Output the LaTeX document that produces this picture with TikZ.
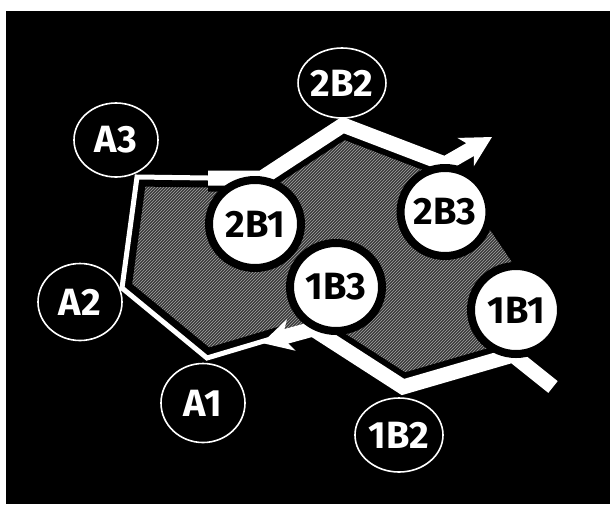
\documentclass[tikz,border=0pt]{standalone}
\usepackage{fontspec}
\setmainfont{Fira Sans}
\usetikzlibrary{arrows.meta,patterns,shapes.geometric,calc}
\definecolor{hatchbg}{RGB}{58,58,58}
\definecolor{hatchln}{RGB}{165,165,165}
\tikzset{
  lbl/.style={ellipse,inner sep=0pt,font=\fontsize{38}{38}\selectfont\bfseries},
  openc/.style={lbl,draw=white,line width=1.6pt,fill=black,text=white,
                minimum width=84pt,minimum height=74pt},
  fullc/.style={lbl,draw=black,line width=8pt,fill=white,text=black,
                minimum width=92pt,minimum height=88pt},
  halothin/.style={draw=black,line width=19pt,line join=miter},
  halothick/.style={draw=black,line width=27pt,line join=miter},
  thinline/.style={draw=white,line width=5pt,line join=miter},
  thickline/.style={draw=white,line width=15pt,line join=miter,miter limit=4},
  bigtip/.style={-{Stealth[length=30pt,width=32pt,inset=9pt]}},
}
\begin{document}
\begin{tikzpicture}[x=1pt,y=-1pt]
  % canvas
  \fill[white] (0,0) rectangle (610,504);
  \fill[black] (6,11) rectangle (610,504);
  \useasboundingbox (0,0) rectangle (610,504);

  % corner points of the two chains
  \coordinate (va3) at (137,177);
  \coordinate (va2) at (122,288);
  \coordinate (va1) at (207,358);
  \coordinate (aend) at (284,335);
  \coordinate (s2) at (208,178);
  \coordinate (v21) at (262,178);
  \coordinate (v22) at (343,125);
  \coordinate (v23) at (445,164);
  \coordinate (t2) at (492,137);
  \coordinate (s1) at (553,387);
  \coordinate (v11) at (513,355);
  \coordinate (v12) at (403,387);
  \coordinate (v13) at (313,329);
  \coordinate (t1) at (262,343);
  \coordinate (rc) at (524,280);

  % hatched area enclosed by the chains
  \fill[hatchbg] (va3) -- (v21) -- (v22) -- (v23) -- (rc) -- (v11) -- (v12)
     -- (v13) -- (aend) -- (va1) -- (va2) -- cycle;
  \fill[pattern=north east lines,pattern color=hatchln] (va3) -- (v21) -- (v22)
     -- (v23) -- (rc) -- (v11) -- (v12) -- (v13) -- (aend) -- (va1) -- (va2) -- cycle;

  % black margins around the lines
  \path[halothin] (s2) -- (va3) -- (va2) -- (va1) -- (aend);
  \path[halothick] (s2) -- (v21) -- (v22) -- (v23) -- ($(v23)!0.35!(t2)$);
  \path[halothick] (s1) -- (v11) -- (v12) -- (v13);

  % the chains
  \path[thinline] (s2) -- (va3) -- (va2) -- (va1) -- (aend);
  \path[thickline,bigtip] (s2) -- (v21) -- (v22) -- (v23) -- (t2);
  \path[thickline,bigtip] (s1) -- (v11) -- (v12) -- (v13) -- (t1);

  % labels
  \node[openc] (a3) at (116,140) {A3};
  \node[openc,minimum height=77pt] (a2) at (80,302) {A2};
  \node[openc,minimum height=79pt] (a1) at (203,403) {A1};
  \node[openc,minimum width=83pt,minimum height=70pt] (b22) at (342,83) {2B2};
  \node[openc,minimum width=88pt] (b12) at (399,435) {1B2};
  \node[fullc] (b21) at (255,224) {2B1};
  \node[fullc,minimum width=88pt] (b23) at (445,212) {2B3};
  \node[fullc] (b13) at (336,287) {1B3};
  \node[fullc,minimum width=90pt] (b11) at (516,310) {1B1};
\end{tikzpicture}
\end{document}
